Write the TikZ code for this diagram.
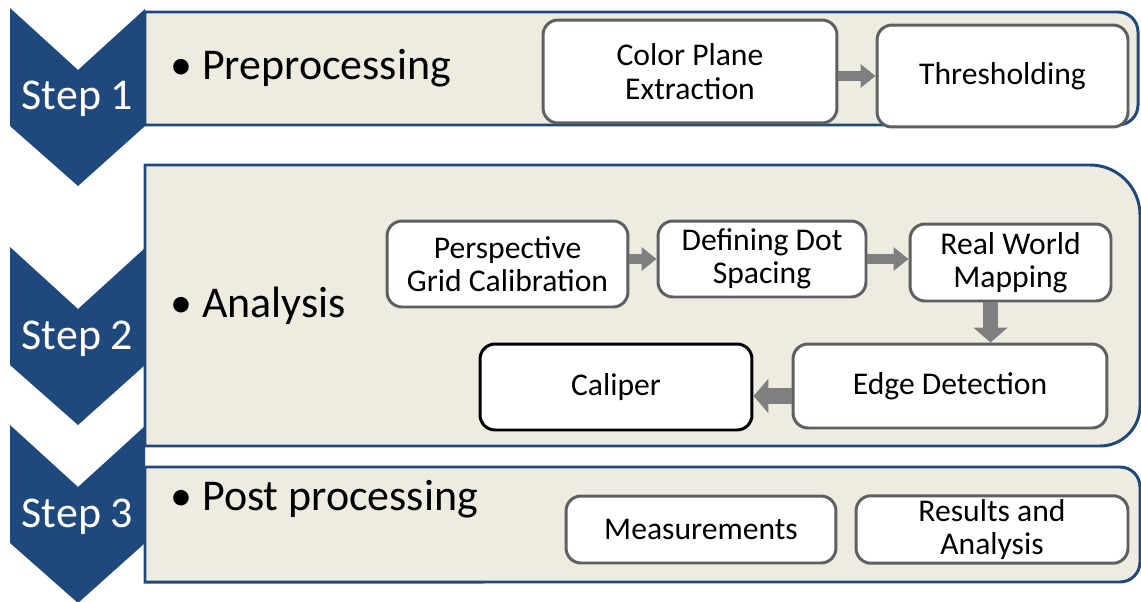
\documentclass[tikz,border=0pt]{standalone}
\usepackage{fontspec}
\setmainfont{Carlito}
\usetikzlibrary{arrows.meta}

\definecolor{stepblue}{HTML}{1F497D}
\definecolor{panelbeige}{HTML}{EEECE1}
\definecolor{boxgray}{HTML}{5F5F5F}
\definecolor{arrowgray}{HTML}{7F7F7F}

\begin{document}
\begin{tikzpicture}[x=0.02cm,y=-0.02cm,
    panel/.style={draw=stepblue,fill=panelbeige,line width=1.7pt},
    steplabel/.style={text=white,font=\fontsize{25}{28}\selectfont,anchor=base,inner sep=0pt},
    bullet/.style={font=\fontsize{25}{28}\selectfont,anchor=base west,inner sep=0pt},
    stage/.style={rectangle,rounded corners=0.3cm,draw=boxgray,line width=1.7pt,fill=white,
        align=center,font=\fontsize{18}{19}\selectfont,inner sep=2pt},
    flow/.style={draw=arrowgray,line width=5.5pt,-{Triangle[length=8.5pt,width=13pt]}},
    bigflow/.style={draw=arrowgray,line width=9pt,-{Triangle[length=8.5pt,width=19pt]}}]
    \useasboundingbox (0,0) rectangle (1141,601);

    % the three step panels, rounded on the right only
    \draw[panel] (145,12) -- (1118,12) arc[start angle=90,end angle=0,radius=0.4cm]
        -- (1138,105) arc[start angle=0,end angle=-90,radius=0.4cm] -- (145,125) -- cycle;
    \draw[panel] (145,165) -- (1090,165) arc[start angle=90,end angle=0,radius=1cm]
        -- (1140,406) arc[start angle=0,end angle=-90,radius=0.8cm] -- (145,446) -- cycle;
    \draw[panel] (145,467) -- (1120,467) arc[start angle=90,end angle=0,radius=0.4cm]
        -- (1140,562) arc[start angle=0,end angle=-90,radius=0.4cm] -- (145,582) -- cycle;

    % chevrons
    \foreach \t/\n in {8/1,247/2,425/3}{
        \fill[stepblue] (10,\t) -- (78,{\t+62}) -- (145,{\t+1}) -- (145,{\t+118})
            -- (78,{\t+178}) -- (10,{\t+118}) -- cycle;
        \node[steplabel] (step\n) at (77.5,{\t+102}) {Step \n};
    }

    \node[bullet] (pre) at (170,80) {• Preprocessing};
    \node[bullet] (ana) at (170,317) {• Analysis};
    \node[bullet] (post) at (170,510) {• Post processing};

    % step 1
    \node[stage,minimum width=5.88cm,minimum height=2.06cm] (cpe) at (690,71.5) {Color Plane\\Extraction};
    \node[stage,minimum width=5.02cm,minimum height=2.04cm] (thr) at (1002.5,76) {Thresholding};
    \draw[flow] (cpe.east |- thr.west) -- (thr.west);

    % step 2
    \node[stage,minimum width=4.82cm,minimum height=1.72cm] (pgc) at (507.5,264) {Perspective\\Grid Calibration};
    \node[stage,minimum width=4.16cm,minimum height=1.52cm] (dds) at (762,259) {Defining Dot\\Spacing};
    \node[stage,minimum width=4.02cm,minimum height=1.54cm] (rwm) at (1010.5,262.5) {Real World\\Mapping};
    \node[stage,minimum width=6.28cm,minimum height=1.68cm] (edge) at (950,386) {Edge Detection};
    \node[stage,draw=black,minimum width=5.44cm,minimum height=1.72cm] (cal) at (616,387) {Caliper};
    \coordinate (rwmfoot) at ([xshift=-0.4cm]rwm.south);
    \coordinate (edgeside) at ([yshift=-0.2cm]edge.west);
    \draw[flow] (pgc.east |- dds.west) -- (dds.west);
    \draw[flow] (dds.east) -- (dds.east -| rwm.west);
    \draw[bigflow] (rwmfoot) -- (rwmfoot |- edge.north);
    \draw[bigflow] (edgeside) -- (edgeside -| cal.east);

    % step 3
    \node[stage,minimum width=5.4cm,minimum height=1.34cm] (meas) at (701,529.5) {Measurements};
    \node[stage,minimum width=5.44cm,minimum height=1.34cm] (res) at (992,529.5) {Results and\\Analysis};
\end{tikzpicture}
\end{document}
